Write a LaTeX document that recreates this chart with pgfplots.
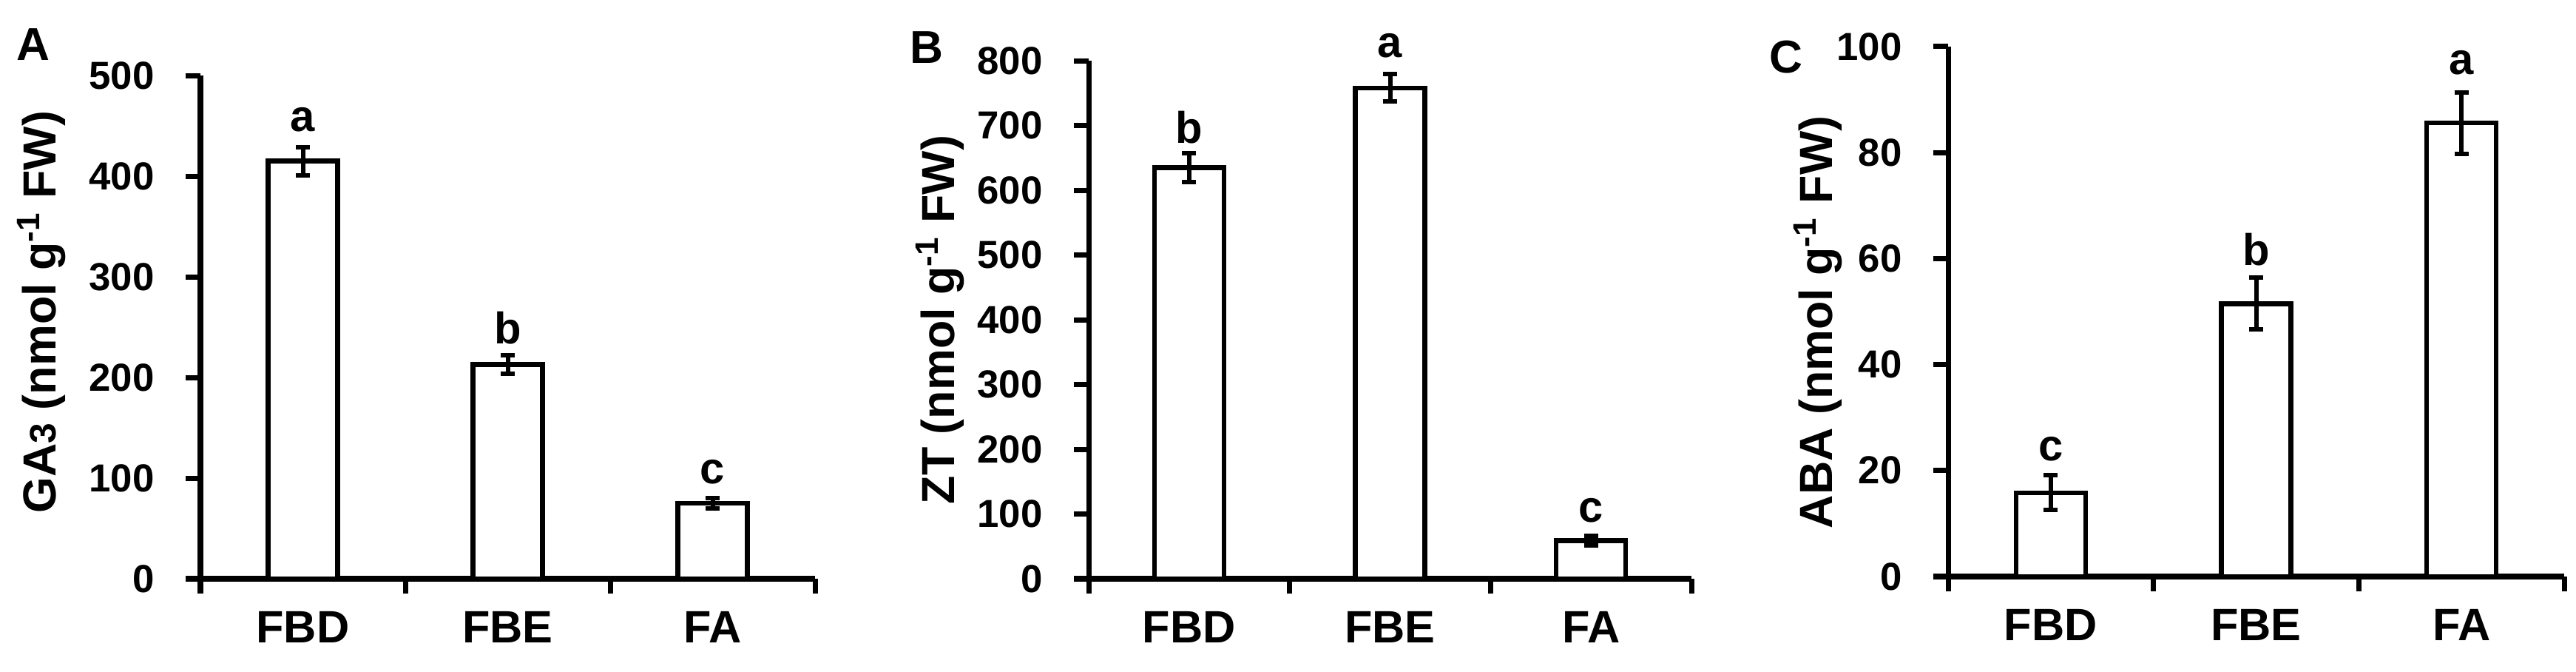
\documentclass[border=0pt]{standalone}
\usepackage{fontspec}
\setmainfont{Liberation Sans}
\usepackage{pgfplots}
\pgfplotsset{compat=1.18}

% 1 px of the reference = 0.2bp
\pgfplotsset{
  hormone/.style={
    scale only axis,
    anchor=south west,
    xmin=0, xmax=3, ymin=0,
    axis x line*=bottom, axis y line*=left,
    axis line style={line width=1.4bp, black},
    tick style={line width=1.4bp, black},
    major tick length=4bp,
    tick align=outside,
    xtick={0,1,2,3}, xticklabels={},
    extra x ticks={0.5,1.5,2.5},
    extra x tick labels={FBD,FBE,FA},
    extra x tick style={major tick length=0pt,
      xticklabel style={font=\fontsize{12.3}{14}\selectfont\bfseries, anchor=center, yshift=-13bp}},
    yticklabel style={font=\fontsize{10.6}{12}\selectfont\bfseries, xshift=-5bp},
    /pgf/number format/assume math mode=true,
    ylabel style={font=\fontsize{12.6}{14}\selectfont\bfseries, anchor=center},
    clip=false,
  },
  bars/.style={
    ybar, bar width=18.8bp, fill=white, draw=black, line width=1.3bp,
    error bars/.cd, y dir=both, y explicit,
    error bar style={line width=1.2bp, black},
    error mark options={rotate=90, black, line width=1.2bp, mark size=1.9bp},
  },
}
\tikzset{
  sig/.style={font=\fontsize{12}{14}\selectfont\bfseries},
  panel/.style={font=\fontsize{12.5}{14}\selectfont\bfseries},
}

\begin{document}
\begin{tikzpicture}
\path[use as bounding box] (0,0) rectangle (696.6bp,181.6bp);

% A: GA3
\begin{axis}[hormone, at={(54.2bp,25.2bp)}, width=166.2bp, height=136bp,
  ymax=500, ytick={0,100,200,300,400,500},
  ylabel={GA{\fontsize{10}{11}\selectfont 3} (nmol g\textsuperscript{-1} FW)},
  ylabel style={at={(axis description cs:-0.259,0.53)}}]
\addplot[bars] coordinates {(0.5,415) +- (0,14) (1.5,213) +- (0,9) (2.5,75) +- (0,5)};
\node[sig] at (axis cs:0.5,456) {a};
\node[sig] at (axis cs:1.5,249) {b};
\node[sig] at (axis cs:2.5,106) {c};
\end{axis}
\node[panel] at (9bp,169.6bp) {A};

% B: ZT
\begin{axis}[hormone, at={(294.4bp,25.2bp)}, width=163bp, height=140bp,
  ymax=800, ytick={0,100,200,300,400,500,600,700,800},
  ylabel={ZT (nmol g\textsuperscript{-1} FW)},
  ylabel style={at={(axis description cs:-0.247,0.50)}}]
\addplot[bars] coordinates {(0.5,635) +- (0,22) (1.5,758) +- (0,21) (2.5,59) +- (0,7)};
\node[sig] at (axis cs:0.5,697) {b};
\node[sig] at (axis cs:1.5,823) {a};
\node[sig] at (axis cs:2.5,106) {c};
\end{axis}
\node[panel] at (250.6bp,168.8bp) {B};

% C: ABA
\begin{axis}[hormone, at={(526.8bp,25.8bp)}, width=166.6bp, height=143.2bp,
  ymax=100, ytick={0,20,40,60,80,100},
  ylabel={ABA (nmol g\textsuperscript{-1} FW)},
  ylabel style={at={(axis description cs:-0.211,0.48)}}]
\addplot[bars] coordinates {(0.5,15.8) +- (0,3.3) (1.5,51.5) +- (0,4.9) (2.5,85.6) +- (0,5.8)};
\node[sig] at (axis cs:0.5,24) {c};
\node[sig] at (axis cs:1.5,61.7) {b};
\node[sig] at (axis cs:2.5,96.9) {a};
\end{axis}
\node[panel] at (483bp,166.2bp) {C};
\end{tikzpicture}
\end{document}
